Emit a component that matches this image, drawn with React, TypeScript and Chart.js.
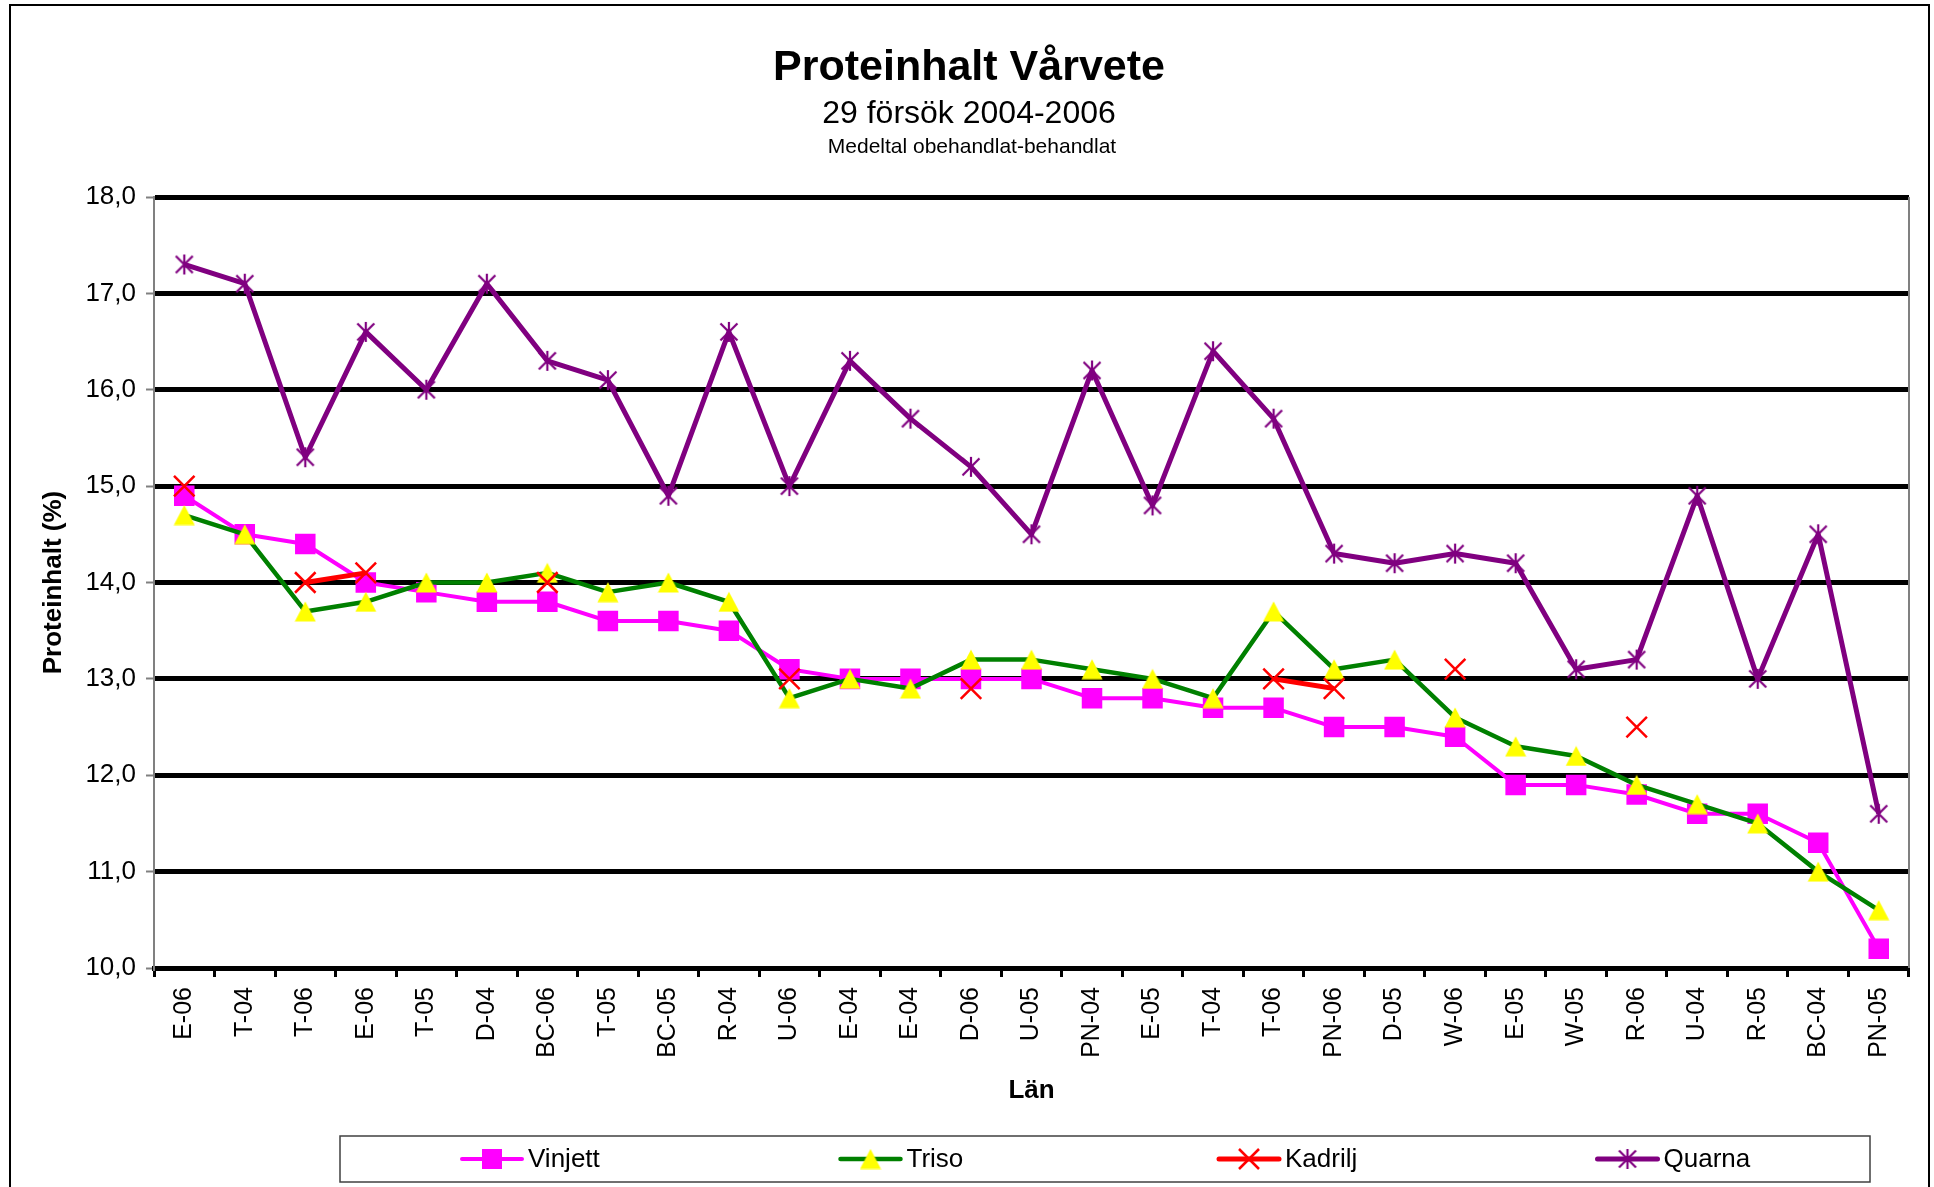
import React, { useEffect, useRef } from 'react';
import { Chart, registerables } from 'chart.js';

Chart.register(...registerables);

const categories = ['E-06', 'T-04', 'T-06', 'E-06', 'T-05', 'D-04', 'BC-06', 'T-05', 'BC-05', 'R-04', 'U-06', 'E-04', 'E-04', 'D-06', 'U-05', 'PN-04', 'E-05', 'T-04', 'T-06', 'PN-06', 'D-05', 'W-06', 'E-05', 'W-05', 'R-06', 'U-04', 'R-05', 'BC-04', 'PN-05'];
const vinjett = [14.9, 14.5, 14.4, 14.0, 13.9, 13.8, 13.8, 13.6, 13.6, 13.5, 13.1, 13.0, 13.0, 13.0, 13.0, 12.8, 12.8, 12.7, 12.7, 12.5, 12.5, 12.4, 11.9, 11.9, 11.8, 11.6, 11.6, 11.3, 10.2];
const triso = [14.7, 14.5, 13.7, 13.8, 14.0, 14.0, 14.1, 13.9, 14.0, 13.8, 12.8, 13.0, 12.9, 13.2, 13.2, 13.1, 13.0, 12.8, 13.7, 13.1, 13.2, 12.6, 12.3, 12.2, 11.9, 11.7, 11.5, 11.0, 10.6];
const kadrilj = [15.0, null, 14.0, 14.1, null, null, 14.0, null, null, null, 13.0, null, null, 12.9, null, null, null, null, 13.0, 12.9, null, 13.1, null, null, 12.5, null, null, null, null];
const quarna = [17.3, 17.1, 15.3, 16.6, 16.0, 17.1, 16.3, 16.1, 14.9, 16.6, 15.0, 16.3, 15.7, 15.2, 14.5, 16.2, 14.8, 16.4, 15.7, 14.3, 14.2, 14.3, 14.2, 13.1, 13.2, 14.9, 13.0, 14.5, 11.6];

const titleText = 'Proteinhalt Vårvete';
const subtitleText = '29 försök 2004-2006';
const noteText = 'Medeltal obehandlat-behandlat';
const yTitle = 'Proteinhalt (%)';
const xTitle = 'Län';
const yMin = 10;
const yMax = 18;

const FONT = "'Liberation Sans', Arial, sans-serif";

function makeTriangle(): HTMLCanvasElement {
  const c = document.createElement('canvas');
  c.width = 22;
  c.height = 21;
  const g = c.getContext('2d')!;
  g.fillStyle = '#FFFF00';
  g.beginPath();
  g.moveTo(11, 0.5);
  g.lineTo(21.5, 20.5);
  g.lineTo(0.5, 20.5);
  g.closePath();
  g.fill();
  return c;
}

function makeAsterisk(): HTMLCanvasElement {
  const c = document.createElement('canvas');
  c.width = 22;
  c.height = 22;
  const g = c.getContext('2d')!;
  g.strokeStyle = '#800080';
  g.lineWidth = 2.2;
  g.beginPath();
  g.moveTo(11, 1);
  g.lineTo(11, 21);
  g.moveTo(2.5, 2.5);
  g.lineTo(19.5, 19.5);
  g.moveTo(19.5, 2.5);
  g.lineTo(2.5, 19.5);
  g.stroke();
  return c;
}

export default function App() {
  const ref = useRef<HTMLCanvasElement>(null);

  useEffect(() => {
    document.body.style.margin = '0';
    document.body.style.overflow = 'hidden';
    const canvas = ref.current!;
    const tri = makeTriangle();
    const ast = makeAsterisk();
    Chart.defaults.font.family = FONT;

    const decor = {
      id: 'decor',
      beforeDraw(chart: any) {
        const { ctx, width, height } = chart;
        ctx.save();
        ctx.fillStyle = '#ffffff';
        ctx.fillRect(0, 0, width, height);
        ctx.restore();
      },
      beforeDatasetsDraw(chart: any) {
        const { ctx, chartArea: a } = chart;
        ctx.save();
        ctx.strokeStyle = '#808080';
        ctx.lineWidth = 2;
        ctx.beginPath();
        ctx.moveTo(a.right, a.top);
        ctx.lineTo(a.right, a.bottom);
        ctx.stroke();
        ctx.restore();
      },
      afterDraw(chart: any) {
        const { ctx } = chart;
        ctx.save();
        // outer frame
        ctx.strokeStyle = '#000';
        ctx.lineWidth = 2;
        ctx.strokeRect(10, 5, 1919, 1300);
        // titles
        ctx.fillStyle = '#000';
        ctx.textAlign = 'center';
        ctx.textBaseline = 'middle';
        ctx.font = `bold 43px ${FONT}`;
        ctx.fillText(titleText, 969, 68);
        ctx.font = `32px ${FONT}`;
        ctx.fillText(subtitleText, 969, 114);
        ctx.font = `21px ${FONT}`;
        ctx.fillText(noteText, 972, 147);
        // legend box
        const bl = 340, br = 1870, bt = 1136, bb = 1182;
        ctx.strokeStyle = '#404040';
        ctx.lineWidth = 1.5;
        ctx.strokeRect(bl, bt, br - bl, bb - bt);
        const cy = (bt + bb) / 2;
        chart.data.datasets.forEach((ds: any, i: number) => {
          const x0 = 462 + i * 378.5;
          const cx = x0 + 30;
          ctx.strokeStyle = ds.borderColor;
          ctx.lineWidth = ds.borderWidth;
          ctx.lineCap = 'round';
          ctx.beginPath();
          ctx.moveTo(x0, cy);
          ctx.lineTo(x0 + 60, cy);
          ctx.stroke();
          const ps = ds.pointStyle;
          if (ps === 'rect') {
            ctx.fillStyle = ds.pointBackgroundColor;
            ctx.fillRect(cx - 10, cy - 10, 20, 20);
          } else if (ps === 'crossRot') {
            ctx.strokeStyle = ds.pointBorderColor;
            ctx.lineWidth = ds.pointBorderWidth;
            ctx.lineCap = 'butt';
            ctx.beginPath();
            ctx.moveTo(cx - 10, cy - 10);
            ctx.lineTo(cx + 10, cy + 10);
            ctx.moveTo(cx + 10, cy - 10);
            ctx.lineTo(cx - 10, cy + 10);
            ctx.stroke();
          } else if (ps && typeof ps === 'object') {
            ctx.drawImage(ps, cx - ps.width / 2, cy - ps.height / 2);
          }
          ctx.fillStyle = '#000';
          ctx.textAlign = 'left';
          ctx.textBaseline = 'middle';
          ctx.font = `26px ${FONT}`;
          ctx.fillText(ds.label, x0 + 66, cy + 1);
        });
        ctx.restore();
      },
    };

    const chart = new Chart(canvas, {
      type: 'line',
      data: {
        labels: categories,
        datasets: [
          {
            label: 'Vinjett',
            data: vinjett,
            borderColor: '#FF00FF',
            backgroundColor: '#FF00FF',
            borderWidth: 4,
            pointStyle: 'rect',
            pointRadius: 14.5,
            pointBackgroundColor: '#FF00FF',
            pointBorderColor: '#FF00FF',
            pointBorderWidth: 0,
            borderJoinStyle: 'round',
            order: 4,
          },
          {
            label: 'Triso',
            data: triso,
            borderColor: '#008000',
            backgroundColor: '#FFFF00',
            borderWidth: 4.5,
            pointStyle: tri,
            pointRadius: 10,
            borderJoinStyle: 'round',
            order: 3,
          },
          {
            label: 'Kadrilj',
            data: kadrilj,
            borderColor: '#FF0000',
            backgroundColor: '#FF0000',
            borderWidth: 5,
            pointStyle: 'crossRot',
            pointRadius: 14.5,
            pointBorderColor: '#FF0000',
            pointBackgroundColor: '#FF0000',
            pointBorderWidth: 2.5,
            spanGaps: false,
            borderJoinStyle: 'round',
            order: 2,
          },
          {
            label: 'Quarna',
            data: quarna,
            borderColor: '#800080',
            backgroundColor: '#800080',
            borderWidth: 5,
            pointStyle: ast,
            pointRadius: 10,
            borderJoinStyle: 'round',
            order: 1,
          },
        ] as any,
      },
      options: {
        responsive: false,
        animation: false,
        devicePixelRatio: 1,
        layout: { padding: { left: 36, top: 197, right: 25, bottom: 81 } },
        plugins: {
          legend: { display: false },
          title: { display: false },
          tooltip: { enabled: false },
        },
        scales: {
          x: {
            type: 'category',
            offset: true,
            grid: {
              display: true,
              drawOnChartArea: false,
              drawTicks: true,
              tickLength: 9,
              tickWidth: 3,
              tickColor: '#000',
              offset: true,
            },
            border: { display: true, color: '#000', width: 5 },
            ticks: {
              autoSkip: false,
              maxRotation: 90,
              minRotation: 90,
              padding: 10,
              color: '#000',
              font: { size: 25 },
            },
            title: {
              display: true,
              text: xTitle,
              color: '#000',
              font: { size: 26, weight: 'bold' },
              padding: { top: 0, bottom: 0 },
            },
            afterFit: (s: any) => {
              s.height = 138;
            },
          },
          y: {
            min: yMin,
            max: yMax,
            ticks: {
              stepSize: 1,
              padding: 10,
              color: '#000',
              font: { size: 26 },
              callback: (v: any) => Number(v).toFixed(1).replace('.', ','),
            },
            grid: {
              color: '#000',
              lineWidth: 5,
              drawTicks: true,
              tickLength: 8,
              tickColor: '#808080',
              tickWidth: 2,
            },
            border: { display: true, color: '#808080', width: 2 },
            title: {
              display: true,
              text: yTitle,
              color: '#000',
              font: { size: 26, weight: 'bold' },
              padding: { top: 2, bottom: 0 },
            },
            afterFit: (s: any) => {
              s.width = 118;
            },
          },
        },
      } as any,
      plugins: [decor],
    });

    return () => chart.destroy();
  }, []);

  return (
    <canvas
      ref={ref}
      width={1934}
      height={1187}
      style={{ display: 'block', width: 1934, height: 1187 }}
    />
  );
}
